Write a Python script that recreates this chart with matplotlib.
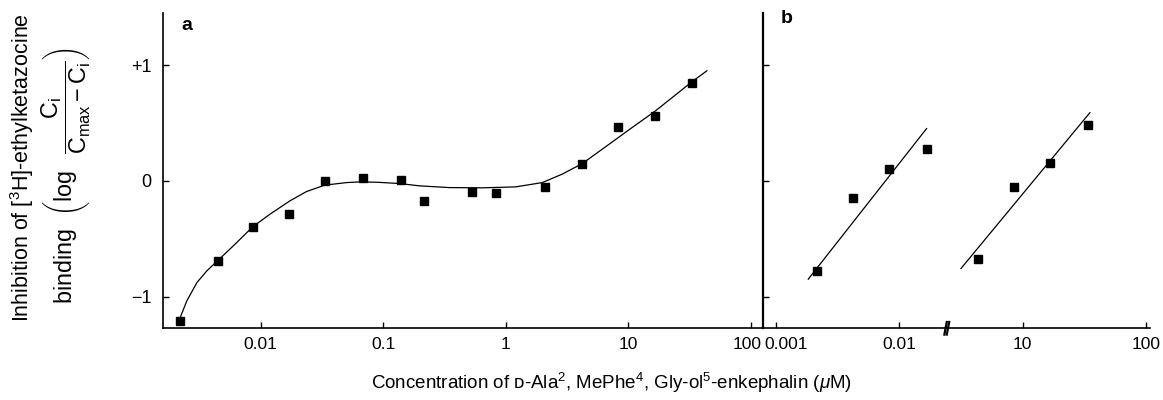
import matplotlib
matplotlib.use("Agg")
import matplotlib.pyplot as plt
from matplotlib.transforms import ScaledTranslation

plt.rcParams['font.family'] = ['Liberation Sans', 'DejaVu Sans']
plt.rcParams['mathtext.fontset'] = 'custom'
plt.rcParams['mathtext.rm'] = 'Liberation Sans'
plt.rcParams['mathtext.it'] = 'Liberation Sans:italic'
plt.rcParams['mathtext.bf'] = 'Liberation Sans:bold'

# ---------------- data ----------------
# panel a : measured points
a_conc = [0.00218, 0.00447, 0.0086, 0.017, 0.0333, 0.068, 0.14, 0.213,
          0.53, 0.83, 2.09, 4.2, 8.24, 16.6, 32.9]
a_inh = [-1.21, -0.69, -0.40, -0.29, -0.005, 0.025, 0.005, -0.178,
         -0.092, -0.109, -0.049, 0.149, 0.469, 0.561, 0.849]
# panel a : fitted curve (traced)
curve_conc = [0.00218, 0.00250, 0.00302, 0.00364, 0.00444, 0.00618, 0.00861,
              0.0119, 0.0173, 0.0237, 0.0333, 0.0500, 0.0641, 0.0891, 0.136,
              0.197, 0.345, 0.646, 1.20, 1.98, 2.88, 4.20, 6.50, 10.7, 16.6,
              32.9, 43.6]
curve_inh = [-1.194, -1.036, -0.878, -0.777, -0.691, -0.547, -0.397,
             -0.288, -0.173, -0.092, -0.037, -0.015, -0.009, -0.012, -0.023,
             -0.043, -0.058, -0.060, -0.052, -0.015, 0.058, 0.149, 0.294, 0.46,
             0.604, 0.855, 0.95]

# panel b, low-concentration segment
b1_conc = [0.00217, 0.00425, 0.0083, 0.017]
b1_inh = [-0.777, -0.144, 0.101, 0.273]
b1_line_conc = [0.00183, 0.0168]
b1_line_inh = [-0.849, 0.452]

# panel b, high-concentration segment
b2_conc = [4.3, 8.5, 16.7, 33.7]
b2_inh = [-0.676, -0.049, 0.158, 0.481]
b2_line_conc = [3.15, 35.2]
b2_line_inh = [-0.757, 0.589]

a_ticks = [0.01, 0.1, 1, 10, 100]
a_ticklabels = ['0.01', '0.1', '1', '10', '100']
b1_ticks = [0.001, 0.01]
b1_ticklabels = ['0.001', '0.01']
b2_ticks = [10, 100]
b2_ticklabels = ['10', '100']
y_ticks = [-1, 0, 1]
y_ticklabels = ['\u22121', '0', '+1']

# ---------------- figure ----------------
W, H = 1163, 400
fig = plt.figure(figsize=(W / 100, H / 100), dpi=100)

bot = 1 - 328.3 / H
top = 1 - 12.7 / H
hgt = top - bot
xa0, xa1 = 162.7 / W, 762.7 / W
xb1 = 948 / W
xb2 = 1150 / W

axa = fig.add_axes([xa0, bot, xa1 - xa0, hgt])
axb1 = fig.add_axes([xa1, bot, xb1 - xa1, hgt])
axb2 = fig.add_axes([xb1, bot, xb2 - xb1, hgt])

ylim = (-1.273, 1.452)
ms = 5.6
lw_spine = 1.2

for ax in (axa, axb1, axb2):
    ax.set_xscale('log')
    ax.set_ylim(*ylim)
    ax.patch.set_alpha(0)
    for s in ('top', 'right'):
        ax.spines[s].set_visible(False)
    for s in ('left', 'bottom'):
        ax.spines[s].set_linewidth(lw_spine)
    ax.minorticks_off()
    ax.tick_params(axis='both', direction='in', length=4, width=1,
                   labelsize=12.5, pad=6, colors='black')

# panel a
axa.set_xlim(10 ** -2.799, 10 ** 2.095)
axa.plot(curve_conc, curve_inh, color='black', lw=0.9)
axa.plot(a_conc, a_inh, 's', color='black', ms=ms)
axa.set_xticks(a_ticks)
axa.set_xticklabels(a_ticklabels)
axa.set_yticks(y_ticks)
axa.set_yticklabels(y_ticklabels)
axa.tick_params(axis='y', pad=8, labelsize=13)
axa.text(0.04, 0.985, 'a', transform=axa.transAxes, fontsize=14,
         fontweight='bold', ha='center', va='top')

# panel b, segment 1
axb1.set_xlim(10 ** -3.108, 10 ** -1.601)
axb1.plot(b1_line_conc, b1_line_inh, color='black', lw=0.9)
axb1.plot(b1_conc, b1_inh, 's', color='black', ms=ms)
axb1.set_xticks(b1_ticks)
axb1.set_xticklabels(b1_ticklabels)
axb1.set_yticks(y_ticks)
axb1.set_yticklabels([])
axb1.spines['left'].set_linewidth(1.6)
axb1.text(0.13, 1.01, 'b', transform=axb1.transAxes, fontsize=14,
          fontweight='bold', ha='center', va='top')

# panel b, segment 2
axb2.set_xlim(10 ** 0.393, 10 ** 2.035)
axb2.plot(b2_line_conc, b2_line_inh, color='black', lw=0.9)
axb2.plot(b2_conc, b2_inh, 's', color='black', ms=ms)
axb2.set_xticks(b2_ticks)
axb2.set_xticklabels(b2_ticklabels)
axb2.spines['left'].set_visible(False)
axb2.set_yticks([])

# keep the adjoining "100" and "0.001" labels apart, as in the reference
lab_a = axa.get_xticklabels()[-1]
lab_a.set_transform(lab_a.get_transform() + ScaledTranslation(-4 / 100, 0, fig.dpi_scale_trans))
lab_b = axb1.get_xticklabels()[0]
lab_b.set_transform(lab_b.get_transform() + ScaledTranslation(10 / 100, 0, fig.dpi_scale_trans))

# axis break marks "//"
for dx in (-0.012, 0.0):
    axb2.plot([dx - 0.006, dx + 0.006], [-0.02, 0.02],
              transform=axb2.transAxes, color='black', lw=1.6,
              clip_on=False)

# axis labels
fig.text(612 / W, 1 - 383 / H,
         'Concentration of \u1d05-Ala$^2$, MePhe$^4$, Gly-ol$^5$-enkephalin ($\\mu$M)',
         ha='center', va='center', fontsize=13.5)
fig.text(22 / W, 1 - 168 / H, 'Inhibition of [$^3$H]-ethylketazocine',
         rotation=90, ha='center', va='center', fontsize=15.5)
fig.text(66 / W, 1 - 176 / H,
         r'$\mathrm{binding}\ \ \left(\log\ \ \dfrac{\mathrm{C_i}}{\mathrm{C_{max}} - \mathrm{C_i}}\right)$',
         rotation=90, ha='center', va='center', fontsize=16.8)

fig.savefig('out.png', dpi=100)
